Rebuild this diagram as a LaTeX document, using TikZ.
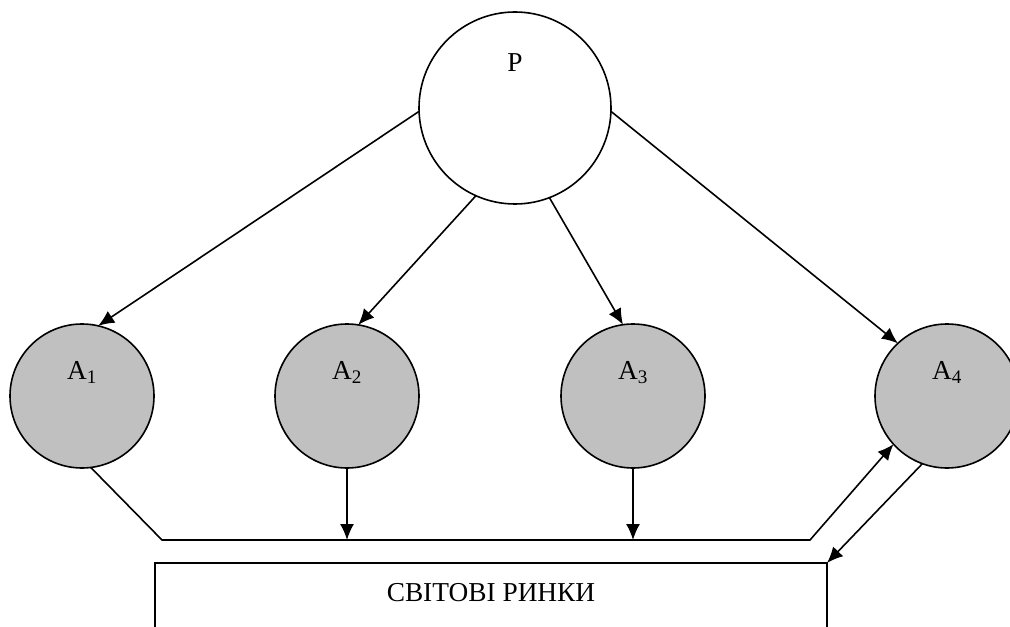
\documentclass[tikz,border=0pt]{standalone}
\usepackage{fontspec}
\setmainfont{Liberation Serif}
\usetikzlibrary{arrows.meta}
\begin{document}
\begin{tikzpicture}[x=0.75pt,y=-0.75pt,
  every node/.style={inner sep=0pt,outer sep=0pt},
  ln/.style={line width=1.2pt},
  arr/.style={ln,-{Latex[length=12pt,width=10.5pt]}},
  bigc/.style={circle,draw,line width=1.2pt,fill=white,minimum size=144pt},
  agent/.style={circle,draw,line width=1.2pt,fill={rgb,255:red,192;green,192;blue,192},minimum size=108pt},
  lbl/.style={font=\fontsize{20.5}{24}\selectfont,anchor=base}]
\useasboundingbox (0,0) rectangle (1010,627);
\clip (0,0) rectangle (1010,627);
% nodes
\node[bigc] (P) at (515,108) {};
\node[lbl] (Pl) at (515,72) {P};
\node[agent] (A1) at (82,396) {};
\node[agent] (A2) at (347,396) {};
\node[agent] (A3) at (633,396) {};
\node[agent] (A4) at (947,396) {};
\node[lbl] (A1l) at (82,379) {A\textsubscript{1}};
\node[lbl] (A2l) at (347,379) {A\textsubscript{2}};
\node[lbl] (A3l) at (633,379) {A\textsubscript{3}};
\node[lbl] (A4l) at (947,379) {A\textsubscript{4}};
% market box (open at the bottom, cut by the page)
\coordinate (mL) at (155,563);
\coordinate (mR) at (827,563);
\draw[ln] (155,640) -- (mL) -- (mR) -- (827,640);
\node[lbl] (M) at (491,601) {СВІТОВІ РИНКИ};
% P to agents
\draw[arr] (P.182) -- (A1.77.5);
\draw[arr] (P.246.6) -- (A2.81.4);
\draw[arr] (P.291.3) -- (A3.98.6);
\draw[arr] (P.358) -- (A4.133.3);
% common channel
\coordinate (b1) at (162,540);
\coordinate (b2) at (810,540);
\draw[arr] (A1.277) -- (b1) -- (b2) -- (A4.222.2);
\draw[arr] (A2.south) -- (A2.south |- b1);
\draw[arr] (A3.south) -- (A3.south |- b1);
\draw[arr] (A4.250.1) -- (mR);
\end{tikzpicture}
\end{document}
